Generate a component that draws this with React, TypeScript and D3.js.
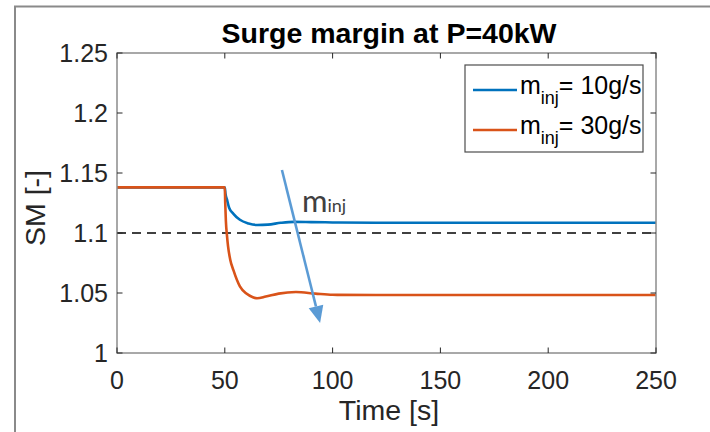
import React from "react";
import * as d3 from "d3";

// m_inj = 10 g/s
const time10 = [0, 50, 50.3, 51, 52, 54, 57, 61, 65, 70, 76, 82, 90, 100, 120, 250];
const sm10 = [1.138, 1.138, 1.133, 1.128, 1.121, 1.116, 1.111, 1.108, 1.1067, 1.107, 1.1085, 1.1093, 1.1091, 1.1088, 1.1085, 1.1085];

// m_inj = 30 g/s
const time30 = [0, 50, 50.2, 50.5, 51, 51.5, 52.5, 54, 57, 60, 63, 65, 69, 75, 83, 92, 100, 120, 250];
const sm30 = [1.138, 1.138, 1.125, 1.11, 1.098, 1.089, 1.078, 1.069, 1.0555, 1.0495, 1.0465, 1.0456, 1.047, 1.0495, 1.0508, 1.0495, 1.0485, 1.0483, 1.0483];

const xTicks = [0, 50, 100, 150, 200, 250];
const yTicks = [1, 1.05, 1.1, 1.15, 1.2, 1.25];
const yTickLabels = ["1", "1.05", "1.1", "1.15", "1.2", "1.25"];
const limitSM = 1.1;

// arrow annotation (data coords): start, end
const arrowFrom = [76.5, 1.1525];
const arrowTo = [94.2, 1.025];

const W = 710;
const H = 432;
const FONT = "'Liberation Sans', Arial, Helvetica, sans-serif";

export default function App() {
  const x = d3.scaleLinear().domain([0, 250]).range([117, 656]);
  const y = d3.scaleLinear().domain([1, 1.25]).range([353, 53]);

  const line = d3
    .line<[number, number]>()
    .x(d => x(d[0]))
    .y(d => y(d[1]))
    .curve(d3.curveMonotoneX);

  const d10 = line(time10.map((t, i) => [t, sm10[i]] as [number, number])) || "";
  const d30 = line(time30.map((t, i) => [t, sm30[i]] as [number, number])) || "";

  const [x0, x1] = x.range();
  const [yb, yt] = y.range();
  const tl = 5.5;

  // arrow geometry
  const ax0 = x(arrowFrom[0]);
  const ay0 = y(arrowFrom[1]);
  const ax1 = x(arrowTo[0]);
  const ay1 = y(arrowTo[1]);
  const ang = Math.atan2(ay1 - ay0, ax1 - ax0);
  const headLen = 17;
  const headW = 7.5;
  const bx = ax1 - headLen * Math.cos(ang);
  const by = ay1 - headLen * Math.sin(ang);
  const px = -Math.sin(ang) * headW;
  const py = Math.cos(ang) * headW;
  const head = `${ax1},${ay1} ${bx + px},${by + py} ${bx - px},${by - py}`;

  const axisColor = "#8c8c8c";
  const textColor = "#262626";

  return (
    <svg
      width={W}
      height={H}
      style={{ position: "absolute", left: 0, top: 0, background: "#fff" }}
    >
      {/* outer figure frame */}
      <rect x={15} y={6.5} width={W + 20} height={H + 20} fill="none" stroke="#8a8a8a" strokeWidth={2} />

      {/* title */}
      <text x={389} y={43} textAnchor="middle" fontFamily={FONT} fontWeight="bold" fontSize={28.5} fill="#000">
        Surge margin at P=40kW
      </text>

      {/* dashed limit */}
      <line x1={x(0)} x2={x(250)} y1={y(limitSM)} y2={y(limitSM)} stroke="#404040" strokeWidth={1.8} strokeDasharray="9,6" />

      {/* data */}
      <path d={d10} fill="none" stroke="#0072BD" strokeWidth={2.6} />
      <path d={d30} fill="none" stroke="#D95319" strokeWidth={2.6} />

      {/* plot box and ticks */}
      <rect x={x0} y={yt} width={x1 - x0} height={yb - yt} fill="none" stroke={axisColor} strokeWidth={1.5} />
      {xTicks.map(t => (
        <g key={"xt" + t}>
          <line x1={x(t)} x2={x(t)} y1={yb} y2={yb - tl} stroke={textColor} strokeWidth={1} />
          <line x1={x(t)} x2={x(t)} y1={yt} y2={yt + tl} stroke={textColor} strokeWidth={1} />
          <text x={x(t)} y={389} textAnchor="middle" fontFamily={FONT} fontSize={25} fill={textColor}>
            {t}
          </text>
        </g>
      ))}
      {yTicks.map((t, i) => (
        <g key={"yt" + t}>
          <line x1={x0} x2={x0 + tl} y1={y(t)} y2={y(t)} stroke={textColor} strokeWidth={1} />
          <line x1={x1} x2={x1 - tl} y1={y(t)} y2={y(t)} stroke={textColor} strokeWidth={1} />
          <text x={108} y={y(t) + 9} textAnchor="end" fontFamily={FONT} fontSize={25} fill={textColor}>
            {yTickLabels[i]}
          </text>
        </g>
      ))}

      {/* axis labels */}
      <text x={389} y={420} textAnchor="middle" fontFamily={FONT} fontSize={28.5} fill={textColor}>
        Time [s]
      </text>
      <text
        transform={`translate(45,${(yt + yb) / 2 + 5}) rotate(-90)`}
        textAnchor="middle"
        fontFamily={FONT}
        fontSize={28.5}
        fill={textColor}
      >
        SM [-]
      </text>

      {/* annotation arrow */}
      <line x1={ax0} y1={ay0} x2={bx} y2={by} stroke="#5B9BD5" strokeWidth={2.6} />
      <polygon points={head} fill="#5B9BD5" />
      <text x={302} y={212} fontFamily="Lato, 'Open Sans', sans-serif" fill="#404040">
        <tspan fontSize={31}>m</tspan>
        <tspan fontSize={18}>inj</tspan>
      </text>

      {/* legend */}
      <rect x={465} y={65} width={178} height={87} fill="#fff" stroke="#4d4d4d" strokeWidth={1.2} />
      {[
        { c: "#0072BD", v: "10g/s", yy: 90 },
        { c: "#D95319", v: "30g/s", yy: 130 }
      ].map(r => (
        <g key={r.v}>
          <line x1={473} x2={517} y1={r.yy} y2={r.yy} stroke={r.c} strokeWidth={2.6} />
          <text x={520} y={r.yy + 4} fontFamily={FONT} fontSize={25} fill="#000">
            m
            <tspan fontSize={18} dy={10}>inj</tspan>
            <tspan dy={-10}>{"= " + r.v}</tspan>
          </text>
        </g>
      ))}
    </svg>
  );
}
